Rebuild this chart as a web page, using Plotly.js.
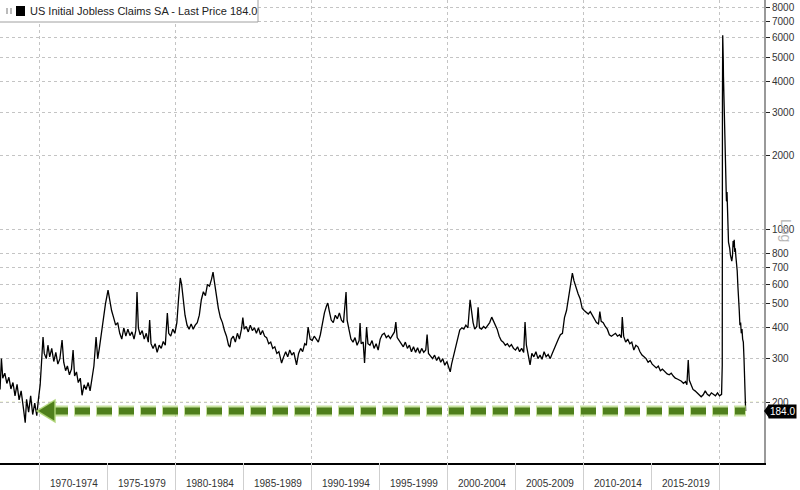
<!DOCTYPE html>
<html><head><meta charset="utf-8">
<script src="https://cdn.plot.ly/plotly-3.0.1.min.js"></script>
<style>html,body{margin:0;padding:0;background:#fff}#chart{width:800px;height:490px}</style>
</head><body><div id="chart"></div>
<script>
const seriesName = 'US Initial Jobless Claims SA';
const years = [
1967.10,1967.20,1967.30,1967.45,1967.60,1967.75,1967.90,1968.05,1968.20,1968.35,1968.50,1968.65,1968.80,1968.95,1969.05,1969.20,1969.35,1969.50,1969.65,1969.80,1969.92,
1970.05,1970.15,1970.26,1970.35,1970.50,1970.62,1970.75,1970.90,1971.05,1971.20,1971.35,1971.50,1971.66,1971.78,1971.92,1972.05,1972.20,1972.35,1972.47,1972.58,1972.72,1972.85,1973.00,1973.13,1973.28,1973.42,1973.58,1973.72,1973.88,1974.00,1974.16,1974.28,1974.40,1974.55,1974.70,1974.85,
1975.04,1975.15,1975.30,1975.45,1975.60,1975.75,1975.90,1976.05,1976.20,1976.35,1976.50,1976.65,1976.80,1976.95,1977.08,1977.17,1977.27,1977.40,1977.55,1977.70,1977.85,1978.00,1978.10,1978.20,1978.35,1978.50,1978.65,1978.80,1978.95,1979.10,1979.25,1979.40,1979.50,1979.65,1979.80,1979.95,
1980.10,1980.22,1980.35,1980.45,1980.55,1980.70,1980.85,1981.00,1981.15,1981.30,1981.45,1981.60,1981.75,1981.90,1982.05,1982.20,1982.35,1982.50,1982.65,1982.76,1982.85,1983.00,1983.15,1983.30,1983.45,1983.60,1983.75,1983.90,1984.00,1984.10,1984.25,1984.40,1984.55,1984.70,1984.85,1984.95,
1985.05,1985.20,1985.35,1985.50,1985.65,1985.80,1985.95,1986.10,1986.25,1986.40,1986.55,1986.70,1986.85,1987.00,1987.15,1987.30,1987.45,1987.60,1987.80,1987.95,1988.10,1988.25,1988.40,1988.55,1988.70,1988.90,1989.05,1989.20,1989.35,1989.50,1989.62,1989.75,1989.90,
1990.05,1990.20,1990.35,1990.50,1990.65,1990.80,1990.95,1991.10,1991.20,1991.30,1991.45,1991.60,1991.75,1991.90,1992.05,1992.20,1992.35,1992.54,1992.62,1992.75,1992.90,1993.05,1993.20,1993.35,1993.50,1993.57,1993.65,1993.80,1993.90,1994.05,1994.15,1994.30,1994.45,1994.60,1994.75,1994.90,
1995.05,1995.20,1995.35,1995.50,1995.65,1995.80,1995.95,1996.10,1996.20,1996.30,1996.45,1996.60,1996.75,1996.90,1997.05,1997.20,1997.35,1997.50,1997.65,1997.80,1997.95,1998.10,1998.25,1998.40,1998.50,1998.60,1998.75,1998.90,1999.05,1999.20,1999.35,1999.50,1999.65,1999.80,1999.95,
2000.10,2000.20,2000.30,2000.45,2000.60,2000.75,2000.90,2001.05,2001.20,2001.35,2001.50,2001.66,2001.75,2001.88,2002.00,2002.15,2002.25,2002.35,2002.50,2002.65,2002.80,2002.95,2003.10,2003.25,2003.35,2003.50,2003.65,2003.80,2003.95,2004.10,2004.25,2004.40,2004.55,2004.70,2004.85,
2005.00,2005.15,2005.30,2005.45,2005.60,2005.70,2005.80,2005.95,2006.07,2006.20,2006.35,2006.50,2006.65,2006.80,2006.95,2007.10,2007.25,2007.40,2007.55,2007.70,2007.85,2008.00,2008.15,2008.30,2008.45,2008.60,2008.75,2008.90,2009.05,2009.18,2009.30,2009.45,2009.60,2009.75,2009.90,
2010.05,2010.20,2010.35,2010.50,2010.65,2010.80,2010.95,2011.10,2011.20,2011.30,2011.45,2011.60,2011.75,2011.90,2012.05,2012.20,2012.35,2012.50,2012.65,2012.78,2012.85,2012.95,2013.10,2013.25,2013.40,2013.55,2013.70,2013.85,2014.00,2014.15,2014.30,2014.45,2014.60,2014.75,2014.90,
2015.05,2015.20,2015.35,2015.50,2015.65,2015.80,2016.00,2016.15,2016.30,2016.45,2016.60,2016.75,2016.90,2017.05,2017.20,2017.35,2017.50,2017.60,2017.70,2017.78,2017.90,2018.05,2018.20,2018.35,2018.50,2018.65,2018.80,2018.95,2019.10,2019.25,2019.40,2019.55,2019.70,2019.85,
2020.00,2020.15,2020.20,2020.215,2020.235,2020.255,2020.275,2020.29,2020.31,2020.33,2020.35,2020.37,2020.39,2020.41,2020.43,2020.45,2020.47,2020.49,2020.51,2020.53,2020.55,2020.57,2020.60,2020.63,2020.66,2020.70,2020.75,2020.80,2020.85,2020.90,2020.95,
2021.00,2021.04,2021.08,2021.12,2021.16,2021.20,2021.25,2021.30,2021.35,2021.40,2021.45,2021.50,2021.55,2021.60,2021.65,2021.70,2021.75,2021.80,2021.85,2021.88,2021.92
];
const claims = [
225,300,250,262,238,252,226,240,212,236,204,222,192,165,205,182,212,178,198,176,205,
235,290,367,315,300,340,305,330,292,318,285,300,357,290,268,280,258,272,325,255,265,240,250,213,235,225,240,222,250,280,367,300,330,380,430,500,
569,520,470,440,410,420,380,360,400,370,395,372,385,360,390,559,400,375,390,360,380,350,430,345,330,345,318,340,330,352,340,459,380,370,395,380,
420,520,637,600,520,450,410,395,415,395,410,420,450,520,560,540,600,590,630,673,620,540,480,440,420,390,370,340,334,360,370,350,380,360,395,440,
395,405,385,410,390,400,380,400,375,390,370,365,345,350,330,335,315,320,288,305,320,305,325,310,318,283,315,330,320,345,340,403,360,
355,370,360,350,375,420,460,490,504,470,430,420,450,435,460,430,420,559,430,395,360,350,365,340,355,418,345,350,288,403,345,340,355,330,345,325,
360,375,380,365,372,362,375,385,422,365,355,345,335,350,330,340,320,335,318,332,315,330,318,325,376,315,308,300,310,295,305,290,300,282,292,
275,265,285,310,340,370,392,400,395,410,400,519,470,420,395,405,485,400,395,405,398,410,420,442,430,410,395,370,355,350,340,345,335,342,330,
325,335,320,330,318,422,340,305,283,315,305,320,300,310,298,320,305,312,300,315,330,350,360,375,380,440,470,530,600,667,620,580,550,525,480,
470,460,455,465,450,430,420,415,465,425,420,405,395,375,370,375,380,370,375,365,442,370,350,360,345,350,325,340,335,320,310,305,300,290,295,
285,280,275,280,268,272,265,260,258,262,255,250,248,245,243,238,242,235,296,245,235,225,222,218,215,210,214,222,215,212,218,214,212,218,
212,215,282,3307,6149,6137,4869,4176,3615,3176,2687,2446,2123,1897,1566,1540,1482,1427,1310,1307,1422,1187,1100,1010,890,870,840,790,760,745,780,
900,850,910,812,840,780,730,680,590,540,470,410,420,380,395,360,350,300,260,210,184
];
const periodStarts = [1970,1975,1980,1985,1990,1995,2000,2005,2010,2015];
const periodLabels = ['1970-1974','1975-1979','1980-1984','1985-1989','1990-1994','1995-1999','2000-2004','2005-2009','2010-2014','2015-2019'];
const gridYears = [1970,1980,1990,2000,2010,2020];
const yTickVals = [200,300,400,500,600,700,800,1000,2000,3000,4000,5000,6000,7000,8000];

const W=800,H=490,M={l:0,r:36,t:0,b:27};
const PW=W-M.l-M.r, PH=H-M.t-M.b;
const yr=[Math.log10(113.2), Math.log10(8540)];
const xr=[1967.096, 2023.27];
const last = claims[claims.length-1];
const toPY = v => (Math.log10(v)-yr[0])/(yr[1]-yr[0]);
const px = p => p/PW;
const py = p => p/PH;
const yL = toPY(last);
const FONT = 'Liberation Sans, Arial, sans-serif';

const shapes = [];
periodStarts.concat([2020]).forEach(s => shapes.push({type:'line',xref:'x',yref:'paper',x0:s,x1:s,y0:0,y1:-py(27),line:{color:'#cfcfcf',width:1}}));
shapes.push({type:'line',xref:'paper',yref:'paper',x0:0,x1:1,y0:toPY(200),y1:toPY(200),line:{color:'#e3ecb4',width:1,dash:'3px,3px'},layer:'below'});
shapes.push({type:'line',xref:'paper',yref:'paper',x0:px(52),x1:px(746),y0:yL,y1:yL,line:{color:'rgba(176,214,120,0.7)',width:11,dash:'16px,6px'}});
shapes.push({type:'line',xref:'paper',yref:'paper',x0:px(53),x1:px(745),y0:yL,y1:yL,line:{color:'#4f7f1c',width:7,dash:'15px,7px'}});
shapes.push({type:'path',xref:'paper',yref:'paper',
  path:`M ${px(37)},${yL} L ${px(55)},${yL+py(11)} L ${px(55)},${yL-py(11)} Z`,
  fillcolor:'#4f7f1c',line:{color:'rgba(176,214,120,0.9)',width:1.5}});
shapes.push({type:'rect',xref:'paper',yref:'paper',x0:-0.003,x1:px(258),y0:1-py(22),y1:1.003,fillcolor:'#fff',line:{color:'#a0a0a0',width:1}});
shapes.push({type:'rect',xref:'paper',yref:'paper',x0:px(16),x1:px(25),y0:1-py(16),y1:1-py(6),fillcolor:'#000',line:{width:0}});
shapes.push({type:'rect',xref:'paper',yref:'paper',x0:px(6),x1:px(8),y0:1-py(14),y1:1-py(8),fillcolor:'#bbb',line:{width:0}});
shapes.push({type:'rect',xref:'paper',yref:'paper',x0:px(10),x1:px(12),y0:1-py(14),y1:1-py(8),fillcolor:'#bbb',line:{width:0}});
shapes.push({type:'path',xref:'paper',yref:'paper',
  path:`M ${px(764)},${yL} L ${px(769)},${yL+py(7)} L ${px(769)},${yL-py(7)} Z`,
  fillcolor:'#000',line:{width:0}});

const annotations = [];
periodStarts.forEach((s,i) => annotations.push({xref:'x',yref:'paper',x:s+2.5,y:-py(20),text:periodLabels[i],showarrow:false,xanchor:'center',yanchor:'middle',font:{family:FONT,size:10,color:'#333'}}));
annotations.push({xref:'paper',yref:'paper',x:px(28),y:1-py(11),text:`${seriesName} - Last Price ${last.toFixed(1)}`,showarrow:false,xanchor:'left',yanchor:'middle',font:{family:FONT,size:11,color:'#222'}});
annotations.push({xref:'paper',yref:'paper',x:px(768),y:yL-py(1),text:last.toFixed(1),showarrow:false,xanchor:'left',yanchor:'middle',bgcolor:'#000',borderpad:1,font:{family:FONT,size:10,color:'#fff'}});
annotations.push({xref:'paper',yref:'paper',x:px(786),y:1-py(230),text:'Log',textangle:90,showarrow:false,xanchor:'center',yanchor:'middle',font:{family:FONT,size:14,color:'#b4b4b4'}});

const trace = {x:years,y:claims,type:'scatter',mode:'lines',line:{color:'#000',width:1.3},hoverinfo:'skip',showlegend:false};

const layout = {
  width:W,height:H,margin:M,paper_bgcolor:'#fff',plot_bgcolor:'#fff',showlegend:false,
  font:{family:FONT,size:10,color:'#333'},
  xaxis:{range:xr,showline:true,linecolor:'#000',linewidth:1.5,tickvals:gridYears,showticklabels:false,ticks:'',showgrid:true,gridcolor:'#c4c4c4',griddash:'3px,3px',gridwidth:1,zeroline:false,fixedrange:true},
  yaxis:{type:'log',side:'right',range:yr,tickvals:yTickVals,ticktext:yTickVals.map(String),ticks:'outside',ticklen:4,tickcolor:'#222',showline:true,linecolor:'#999',linewidth:2,showgrid:true,gridcolor:'#c4c4c4',griddash:'3px,3px',gridwidth:1,zeroline:false,tickfont:{family:FONT,size:10,color:'#333'},fixedrange:true},
  shapes:shapes,annotations:annotations
};
Plotly.newPlot('chart',[trace],layout,{staticPlot:true,displayModeBar:false});
</script></body></html>
